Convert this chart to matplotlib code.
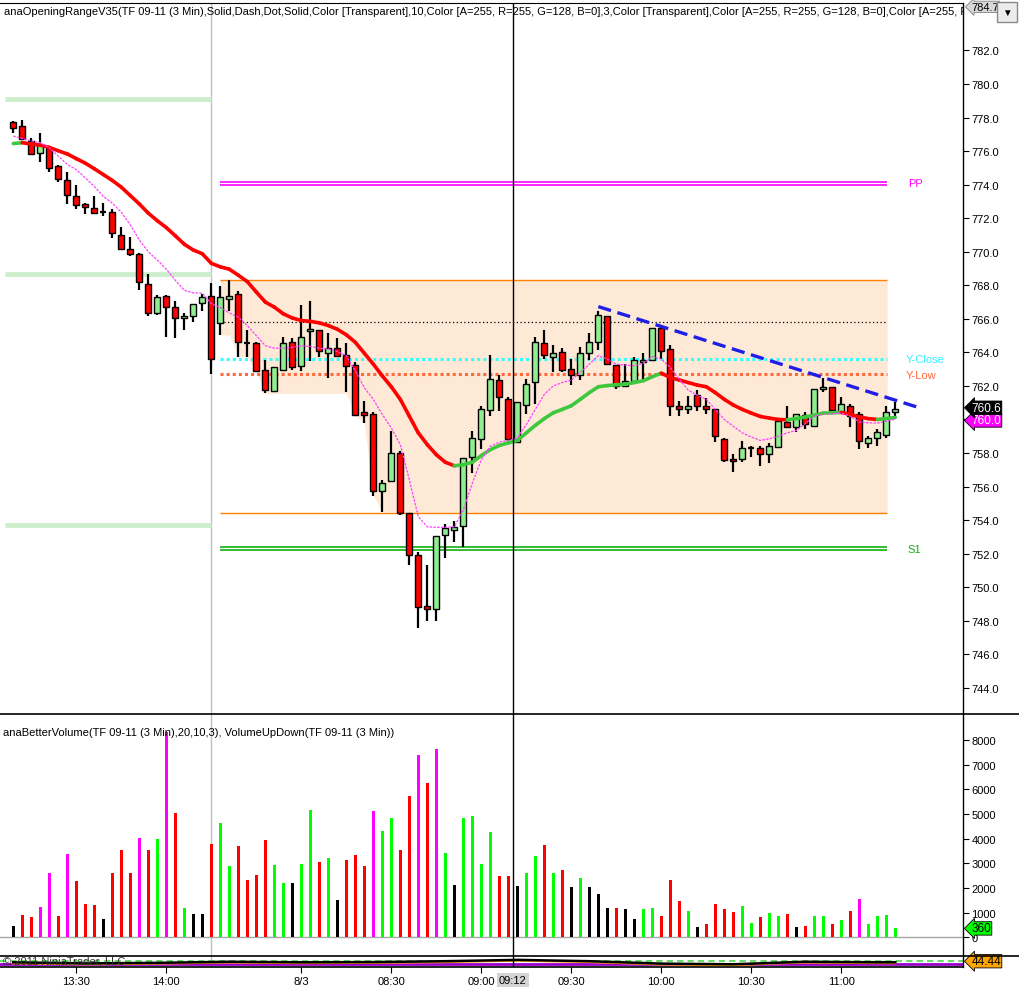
import numpy as np
import matplotlib
matplotlib.use("Agg")
import matplotlib.pyplot as plt
from matplotlib.lines import Line2D
from matplotlib.patches import Rectangle
from matplotlib.collections import LineCollection

plt.rcParams['font.family'] = ['Liberation Sans', 'DejaVu Sans']

# ---- 3 min bars, TF 09-11 ----
opens = [777.75, 777.5, 776.6, 775.9, 776.2, 775.13, 774.3, 773.32, 772.83, 772.63,
         772.35, 772.39, 771.02, 770.19, 769.89, 768.1, 766.32, 767.37, 766.73, 766.02,
         766.14, 766.93, 767.37, 765.78, 767.21, 767.51, 764.57, 764.53, 762.92, 761.71,
         762.94, 764.59, 763.2, 765.28, 765.32, 763.97, 764.29, 763.82, 763.22, 760.42,
         760.32, 755.72, 756.31, 757.98, 754.4, 751.94, 748.85, 748.71, 753.11, 753.41,
         753.67, 757.78, 758.83, 760.58, 762.35, 761.21, 758.67, 760.88, 762.21, 764.53,
         763.7, 764.0, 762.98, 762.64, 763.94, 764.59, 766.14, 763.22, 762.0, 762.3,
         763.42, 763.56, 765.48, 764.23, 760.82, 760.62, 761.47, 760.78, 760.62, 758.83,
         757.62, 757.62, 758.3, 758.28, 757.92, 758.37, 759.86, 759.53, 760.28, 759.59,
         761.81, 761.91, 760.42, 760.78, 760.3, 758.57, 758.87, 759.09, 760.42]
highs = [777.8, 777.85, 776.8, 777.06, 776.25, 775.2, 774.73, 773.96, 772.93, 773.35,
         772.93, 772.53, 771.46, 770.9, 769.9, 768.66, 767.41, 767.4, 767.09, 766.32,
         766.91, 767.51, 768.12, 767.93, 768.3, 767.66, 765.32, 764.59, 763.52, 763.1,
         764.91, 764.85, 766.81, 767.05, 765.32, 765.18, 764.83, 764.55, 763.4, 761.08,
         760.42, 756.37, 759.3, 758.13, 754.4, 752.08, 751.33, 753.07, 753.77, 753.97,
         757.68, 759.3, 760.78, 763.83, 762.64, 761.31, 761.02, 762.41, 764.89, 765.31,
         764.43, 764.29, 763.6, 764.33, 765.13, 766.45, 766.14, 763.22, 763.3, 763.7,
         763.94, 765.48, 765.62, 764.43, 761.11, 761.41, 761.77, 761.27, 760.62, 758.87,
         757.94, 758.73, 758.43, 758.43, 758.59, 759.89, 760.82, 760.3, 760.42, 761.81,
         762.45, 761.91, 761.31, 760.9, 760.42, 759.01, 759.43, 760.78, 761.02]
lows = [777.1, 776.65, 775.76, 775.35, 774.75, 774.16, 772.85, 772.55, 772.25, 772.23,
        772.13, 770.79, 770.15, 769.75, 767.72, 766.18, 766.23, 764.92, 764.87, 765.34,
        765.84, 766.47, 762.74, 765.04, 766.47, 763.74, 763.74, 762.84, 761.55, 761.65,
        762.87, 762.94, 762.86, 763.48, 763.74, 762.45, 763.76, 761.65, 760.28, 759.77,
        755.46, 754.5, 756.25, 754.32, 751.34, 747.57, 747.97, 748.01, 751.73, 752.68,
        752.42, 756.82, 758.24, 760.22, 760.52, 758.59, 758.67, 760.34, 760.92, 763.6,
        762.84, 762.84, 762.07, 762.36, 763.56, 764.15, 763.28, 761.81, 762.0, 762.3,
        762.41, 763.56, 763.6, 760.22, 760.22, 760.32, 760.52, 760.32, 758.64, 757.44,
        756.85, 757.44, 757.74, 757.24, 757.38, 758.31, 759.53, 759.23, 759.43, 759.59,
        761.65, 760.42, 760.42, 759.56, 758.24, 758.31, 758.43, 758.87, 760.22]
closes = [777.4, 776.7, 775.85, 776.34, 775.0, 774.32, 773.38, 772.81, 772.69, 772.33,
          772.35, 771.14, 770.19, 769.89, 768.22, 766.32, 767.33, 766.73, 766.02, 766.14,
          766.91, 767.33, 763.6, 767.33, 767.39, 764.59, 764.57, 762.9, 761.73, 763.1,
          764.53, 763.1, 764.89, 765.42, 764.11, 764.29, 763.79, 763.2, 760.28, 760.28,
          755.72, 756.19, 757.98, 754.42, 751.92, 748.81, 748.71, 753.07, 753.51, 753.57,
          757.68, 758.87, 760.62, 762.41, 761.31, 758.83, 761.02, 762.1, 764.59, 763.83,
          763.94, 762.96, 762.64, 763.94, 764.59, 766.22, 763.28, 762.0, 762.3, 763.54,
          763.54, 765.48, 764.11, 760.78, 760.62, 760.78, 760.78, 760.62, 759.0, 757.6,
          757.5, 758.28, 758.3, 757.92, 758.41, 759.89, 759.53, 760.3, 759.71, 761.81,
          761.91, 760.58, 760.9, 760.18, 758.69, 758.87, 759.23, 760.42, 760.62]

# slow average (red falling / green rising) and fast average (magenta)
slow_ma = [776.45, 776.5, 776.42, 776.35, 776.22, 776.02, 775.83, 775.55, 775.28, 774.95,
           774.6, 774.25, 773.85, 773.35, 772.85, 772.3, 771.85, 771.44, 770.95, 770.45,
           770.1, 769.88, 769.31, 769.1, 768.96, 768.6, 768.22, 767.6, 767.0, 766.7,
           766.3, 766.05, 765.9, 765.85, 765.76, 765.6, 765.38, 765.05, 764.6, 763.95,
           763.3, 762.6, 761.95, 761.2, 760.2, 759.2, 758.5, 757.9, 757.45, 757.24,
           757.3, 757.45, 757.85, 758.2, 758.45, 758.6, 758.75, 759.2, 759.65, 760.05,
           760.4, 760.6, 760.82, 761.2, 761.6, 761.95, 762.02, 762.07, 762.1, 762.2,
           762.31, 762.55, 762.76, 762.5, 762.35, 762.2, 762.05, 761.95, 761.6, 761.2,
           760.86, 760.6, 760.38, 760.18, 760.08, 760.0, 759.98, 760.05, 760.15, 760.25,
           760.38, 760.4, 760.42, 760.3, 760.15, 760.05, 760.0, 760.05, 760.12]
fast_ma = [776.9, 776.75, 776.6, 776.5, 776.2, 775.7, 775.2, 774.9, 774.4, 773.9,
           773.3, 772.9, 772.35, 771.6, 770.7, 770.0, 769.5, 768.96, 768.3, 767.7,
           767.55, 767.53, 766.9, 766.68, 766.35, 766.1, 765.6, 765.0, 764.4, 764.25,
           764.25, 764.3, 764.39, 764.35, 764.25, 764.2, 764.05, 763.8, 762.9, 761.9,
           761.2, 760.3, 759.5, 758.5, 756.4, 754.2, 753.6, 753.57, 753.57, 753.6,
           754.6, 756.2, 757.6, 758.4, 758.65, 758.75, 758.9, 759.7, 760.6, 761.5,
           762.0, 762.2, 762.35, 762.8, 763.3, 763.8, 763.6, 763.3, 763.25, 763.2,
           763.35, 763.75, 763.6, 763.1, 762.4, 761.75, 761.45, 761.2, 760.6, 760.0,
           759.6, 759.2, 758.95, 758.75, 758.85, 759.0, 759.2, 759.35, 759.75, 760.2,
           760.32, 760.35, 760.38, 760.2, 759.85, 759.8, 759.78, 759.9, 760.02]

volume = [460, 900, 820, 1230, 2600, 860, 3380, 2280, 1350, 1310,
          740, 2600, 3540, 2600, 4020, 3540, 3980, 8310, 5040, 1190,
          950, 950, 3780, 4630, 2890, 3700, 2320, 2520, 3940, 2930,
          2200, 2200, 2970, 5160, 3050, 3210, 1510, 3130, 3340, 2890,
          5120, 4310, 4830, 3540, 5720, 7390, 6250, 7630, 3420, 2120,
          4830, 4910, 2970, 4270, 2480, 2480, 2080, 2600, 3290, 3740,
          2600, 2720, 2040, 2400, 2040, 1750, 1190, 1190, 1150, 740,
          1150, 1190, 860, 2320, 1470, 1070, 420, 540, 1350, 1150,
          1020, 1270, 580, 820, 980, 860, 940, 420, 460, 860,
          860, 540, 700, 1070, 1550, 540, 860, 900, 360]
vol_codes = ("krrmmrmrrr" "krrrmrgmrg" "kkrggrrrrg" "gkggrgkrrr" "mggrrmrmgk"
             "ggggrrkggr" "grkgkkkrkk" "ggrrrgkrrr" "rggrggrkrg" "grgrmgggg")

# bottom oscillator panel (0..100)
osc_bars = [0, 8, 16, 24, 32, 40, 48, 56, 64, 72, 80, 88, 96, 98]
osc_black = [40, 30, 35, 45, 40, 42, 50, 62, 50, 28, 22, 45, 40, 40]
osc_orange = [30, 22, 28, 38, 32, 35, 42, 55, 42, 20, 15, 38, 32, 32]

# levels
prior_levels = [779.1, 768.67, 753.7]
pp_lines = [774.16, 773.98]
s1_lines = [752.39, 752.21]
or_high, or_low = 768.3, 754.43
or_open_line = 765.79
y_close, y_low = 763.6, 762.69
session_bar = 22
or_start, levels_end = 23, 97.1
trend_x = [65, 100.9]
trend_y = [766.73, 760.66]
crosshair_bar = 55.5

tick_bars = [7, 17, 32, 42, 52, 62, 72, 82, 92]
tick_labels = ["13:30", "14:00", "8/3", "08:30", "09:00", "09:30", "10:00", "10:30", "11:00"]

W, H = 1020.0, 995.0


def px_rect(x0, y0, x1, y1):
    return [x0 / W, 1 - y1 / H, (x1 - x0) / W, (y1 - y0) / H]


fig = plt.figure(figsize=(10.2, 9.95), dpi=100)
ax = fig.add_axes(px_rect(0, 4, 963, 715))
axv = fig.add_axes(px_rect(0, 715, 963, 956.7))
axo = fig.add_axes(px_rect(0, 956.7, 963, 967.7))

bars = np.arange(len(closes))
o, h, l, c = map(np.array, (opens, highs, lows, closes))
xlim = (-13.3 / 9, (963 - 13.3) / 9)

for a in (ax, axv, axo):
    a.set_xlim(*xlim)
    for s in ("left", "top", "bottom"):
        a.spines[s].set_visible(False)
    a.spines["right"].set_linewidth(1.0)
    a.yaxis.tick_right()
    a.tick_params(axis="x", bottom=False, labelbottom=False)
    a.tick_params(axis="y", direction="out", length=4, width=0.8, labelsize=8, pad=2)
    a.axvline(session_bar, color="#c0c0c0", lw=1, zorder=1)
    a.axvline(crosshair_bar, color="black", lw=1, zorder=7)

ax.spines["top"].set_visible(True)
ax.spines["top"].set_linewidth(0.8)

# ---- price panel ----
ax.set_ylim(742.44, 784.83)
ax.set_yticks(np.arange(744, 783, 2))
ax.yaxis.set_major_formatter(plt.FormatStrFormatter("%.1f"))

# opening range fill (developing low)
fb = np.arange(or_start, len(closes))
run_low = np.maximum(np.minimum.accumulate(l[or_start:]), or_low)
fx = np.append(fb, levels_end)
fy = np.append(run_low, or_low)
ax.fill_between(fx, fy, or_high, color="#fee9d6", lw=0, zorder=0)
ax.hlines([or_high, or_low], or_start, levels_end, color="#ff8000", lw=1, zorder=1)
ax.hlines(or_open_line, or_start, levels_end, color="black", lw=0.9, ls=(0, (1, 2)), zorder=1)
ax.hlines(y_close, or_start, levels_end, color="#33ffff", lw=2.2, ls=(0, (1, 1)), zorder=1)
ax.hlines(y_low, or_start, levels_end, color="#ff6a3d", lw=2.2, ls=(0, (1, 1)), zorder=1)
ax.hlines(pp_lines, or_start, levels_end, color="#ff00ff", lw=1.2, zorder=1)
ax.hlines(s1_lines, or_start, levels_end, color="#12b012", lw=1.2, zorder=1)
ax.hlines(prior_levels, -0.92, session_bar, color="#cdeecd", lw=3.5, zorder=1)

ax.text(99.4, sum(pp_lines) / 2, "PP", color="#ff00ff", fontsize=8, va="center", clip_on=False)
ax.text(99.4, sum(s1_lines) / 2, "S1", color="#12b012", fontsize=8, va="center", clip_on=False)
ax.text(99.2, y_close, "Y-Close", color="#33eeff", fontsize=8, va="center", clip_on=False)
ax.text(99.2, y_low - 0.05, "Y-Low", color="#ff6a3d", fontsize=8, va="center", clip_on=False)

# candles
up = c >= o
body_lo = np.minimum(o, c)
body_h = np.maximum(np.abs(c - o), 0.12)
doji = np.abs(c - o) < 0.01
ax.vlines(bars, l, h, color="black", lw=1.6, zorder=3)
ax.bar(bars[~doji], body_h[~doji], bottom=body_lo[~doji], width=0.68,
       color=np.where(up, "#90ee90", "#ff0000")[~doji], edgecolor="black", lw=1, zorder=4)
ax.hlines(c[doji], bars[doji] - 0.34, bars[doji] + 0.34, color="black", lw=1.6, zorder=4)

# averages
sm = np.array(slow_ma)
pts = np.column_stack([bars, sm])
segs = np.stack([pts[:-1], pts[1:]], axis=1)
seg_cols = np.where(np.diff(sm) >= 0, "#3ec83e", "#ff0000")
ax.add_collection(LineCollection(segs, colors=seg_cols, linewidths=2.6, zorder=5, capstyle="round"))
ax.plot(bars, fast_ma, color="#ff40ff", lw=0.9, ls=(0, (2, 1)), zorder=5)

ax.plot(trend_x, trend_y, color="#1e1ee6", lw=2.4, ls=(0, (4, 2)), zorder=6)

ax.text(0.004, 0.9887,
        "anaOpeningRangeV35(TF 09-11 (3 Min),Solid,Dash,Dot,Solid,Color [Transparent],10,"
        "Color [A=255, R=255, G=128, B=0],3,Color [Transparent],Color [A=255, R=255, G=128, B=0],"
        "Color [A=255, R=255, G=128, B=0]",
        transform=ax.transAxes, fontsize=8, va="center", ha="left", clip_on=True)


def value_tag(axis, y, text, face, fg, ec="black", size=8):
    axis.annotate(text, xy=(1, y), xycoords=("axes fraction", "data"),
                  xytext=(6, 0), textcoords="offset points", ha="left", va="center",
                  fontsize=size, color=fg, annotation_clip=False, zorder=10,
                  bbox=dict(boxstyle="larrow,pad=0.06", fc=face, ec=ec, lw=0.6))


value_tag(ax, fast_ma[-1] - 0.08, "%.1f" % fast_ma[-1], "#ff00ff", "white", size=8.5)
value_tag(ax, c[-1] + 0.08, "%.1f" % c[-1], "black", "white", size=8.5)
value_tag(ax, 784.6, "784.7", "#d8d8d8", "black", ec="#808080")

# ---- volume panel ----
vcol = {"k": "black", "r": "#ff0000", "g": "#00ff00", "m": "#ff00ff"}
axv.set_ylim(-746, 9055)
axv.set_yticks(np.arange(0, 8001, 1000))
axv.bar(bars, volume, width=0.34, color=[vcol[k] for k in vol_codes], lw=0, zorder=3)
axv.axhline(0, color="#a8a8a8", lw=1, zorder=2)
axv.text(0.003, 0.9255,
         "anaBetterVolume(TF 09-11 (3 Min),20,10,3), VolumeUpDown(TF 09-11 (3 Min))",
         transform=axv.transAxes, fontsize=8, va="center", ha="left")
value_tag(axv, volume[-1], str(volume[-1]), "#00ff00", "black", size=8.5)

# ---- oscillator strip ----
axo.set_ylim(0, 100)
axo.set_yticks([])
axo.axhline(28, color="#9900cc", lw=2, zorder=2)
axo.axhline(50, color="#66dd66", lw=1.5, ls=(0, (3, 2)), zorder=2)
axo.plot(osc_bars, osc_orange, color="#ffa500", lw=1.5, zorder=3)
axo.plot(osc_bars, osc_black, color="black", lw=1.8, zorder=4)
value_tag(axo, 50, "44.44", "#ffa500", "black", size=8.5)

axo.tick_params(axis="x", bottom=True, labelbottom=True, direction="out",
                length=4, width=0.8, labelsize=8, pad=3)
axo.set_xticks(tick_bars)
axo.set_xticklabels(tick_labels)

# panel separators
for y, x1 in ((715, 1020), (956.7, 1020), (967.7, 963)):
    fig.add_artist(Line2D([0, x1 / W], [1 - y / H, 1 - y / H], color="black", lw=1.2))

fig.text(3 / W, 1 - 962 / H, "\u00a9 2011 NinjaTrader, LLC", fontsize=8, color="#333333",
         va="center", ha="left")
fig.text(513 / W, 1 - 981 / H, "09:12", fontsize=8, ha="center", va="center",
         bbox=dict(boxstyle="square,pad=0.2", fc="#d4d4d4", ec="none"))

# chart menu button (sits over the top price tag)
fig.add_artist(Rectangle((997 / W, 1 - 23 / H), 20 / W, 20 / H, transform=fig.transFigure,
                         fc="#ececec", ec="#8a8a8a", lw=1, zorder=20))
fig.text(1007 / W, 1 - 12.5 / H, "\u25bc", fontsize=7, ha="center", va="center", zorder=21)

fig.savefig("out.png", dpi=100)
